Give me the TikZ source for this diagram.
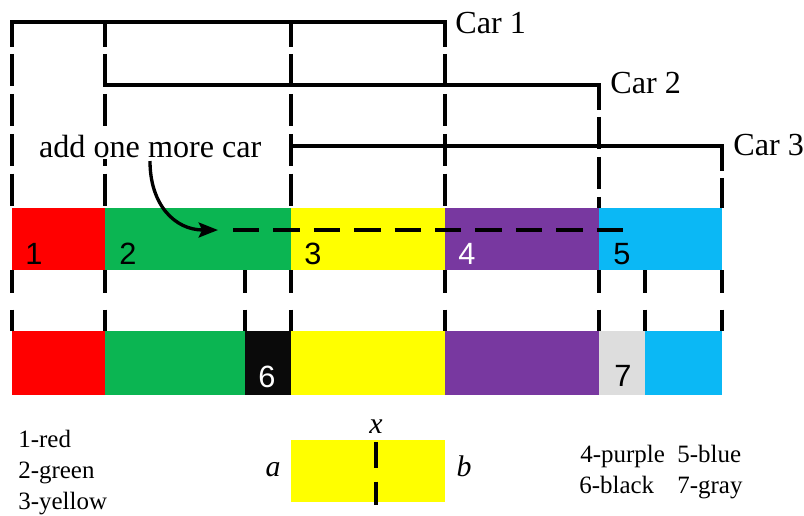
\documentclass[tikz,border=0pt]{standalone}
\usepackage{fontspec}
\setmainfont{Liberation Serif}
\setsansfont{Liberation Sans}
\newfontfamily\serifff{Liberation Serif}
\newfontfamily\sansff{Liberation Sans}
\usetikzlibrary{arrows.meta}
\definecolor{cred}{HTML}{FF0000}
\definecolor{cgreen}{HTML}{0BB552}
\definecolor{cyellow}{HTML}{FFFF00}
\definecolor{cpurple}{HTML}{7838A0}
\definecolor{cblue}{HTML}{0BB8F5}
\definecolor{cblack}{HTML}{0A0A0A}
\definecolor{cgray}{HTML}{DDDDDD}
\begin{document}
\begin{tikzpicture}[x=0.02cm,y=-0.02cm,
  solidline/.style={line width=2.1pt, line cap=rect},
  vdash/.style={line width=2.1pt, dash pattern=on 18.5pt off 4.2pt, dash phase=4.5pt},
  tickline/.style={line width=2pt, dash pattern=on 13pt off 9.6pt},
  hdash/.style={line width=2.2pt, dash pattern=on 15pt off 8pt},
  num/.style={font=\sansff\fontsize{17.5}{20}\selectfont, inner sep=0pt},
  carlabel/.style={font=\serifff\fontsize{18.3}{21}\selectfont, anchor=base west, inner sep=0pt},
  legend/.style={font=\serifff\fontsize{14.2}{16}\selectfont, anchor=base west, inner sep=0pt},
  ital/.style={font=\serifff\itshape\fontsize{17}{19}\selectfont, inner sep=0pt}]
\useasboundingbox (0,0) rectangle (804,515);

% top row blocks
\fill[cred]    (12,208)  rectangle (105,270);
\fill[cgreen]  (105,208) rectangle (291,270);
\fill[cyellow] (291,208) rectangle (445,270);
\fill[cpurple] (445,208) rectangle (599,270);
\fill[cblue]   (599,208) rectangle (722,270);

% bottom row blocks
\fill[cred]    (12,331)  rectangle (105,395);
\fill[cgreen]  (105,331) rectangle (245,395);
\fill[cblack]  (245,331) rectangle (291,395);
\fill[cyellow] (291,331) rectangle (445,395);
\fill[cpurple] (445,331) rectangle (599,395);
\fill[cgray]   (599,331) rectangle (645,395);
\fill[cblue]   (645,331) rectangle (722,395);

% bracket corners
\coordinate (c1a) at (12,22);  \coordinate (c1b) at (445,22);
\coordinate (c2a) at (105,85); \coordinate (c2b) at (599,85);
\coordinate (c3a) at (291,146);\coordinate (c3b) at (722,146);

% car brackets (horizontal)
\draw[solidline] (c1a) -- (c1b);
\draw[solidline] (c2a) -- (c2b);
\draw[solidline] (c3a) -- (c3b);

% vertical dashed lines to top row
\foreach \xx/\yy in {12/22,105/22,291/22,445/22,599/85,722/146}
  \draw[vdash] (\xx,\yy) -- (\xx,208);

% ticks between rows
\foreach \xx in {12,105,245,291,445,599,645,722}
  \draw[tickline] (\xx,270) -- (\xx,331);

% car labels
\node[carlabel] (car1) at (455,33) {Car 1};
\node[carlabel] (car2) at (610,93) {Car 2};
\node[carlabel] (car3) at (733,155) {Car 3};

% add one more car
\node[carlabel, fill=white, inner sep=1pt] (add) at (37,157) {add one more car};
\coordinate (arrS) at (150,161);
\coordinate (arrE) at (218,230);
\coordinate (dS) at (233,230);
\coordinate (dE) at (628,230);
\draw[line width=1.9pt, -{Stealth[length=11pt,width=8.5pt,inset=2pt]}]
  (arrS) .. controls (150,205) and (175,230) .. (arrE);
\draw[hdash] (dS) -- (dE);

% numbers
\node[num] (n1) at (34,254) {1};
\node[num] (n2) at (128,254) {2};
\node[num] (n3) at (313,254) {3};
\node[num, text=white] (n4) at (467,254) {4};
\node[num] (n5) at (622,254) {5};
\node[num, text=white] (n6) at (267,377) {6};
\node[num] (n7) at (623,376) {7};

% legend left
\node[legend] (l1) at (18,447) {1-red};
\node[legend] (l2) at (18,478) {2-green};
\node[legend] (l3) at (18,509) {3-yellow};

% legend right
\node[legend] (l4) at (580,462) {4-purple};
\node[legend] (l5) at (677,462) {5-blue};
\node[legend] (l6) at (579,493) {6-black};
\node[legend] (l7) at (677,493) {7-gray};

% ab box
\fill[cyellow] (291,440) rectangle (445,502);
\coordinate (xt) at (376,442);
\coordinate (xb) at (376,505);
\draw[line width=2.1pt, dash pattern=on 15pt off 7.5pt] (xt) -- (xb);
\node[ital, anchor=base] (xl) at (376,433) {x};
\node[ital, anchor=base] (al) at (273,476) {a};
\node[ital, anchor=base] (bl) at (464,476) {b};
\end{tikzpicture}
\end{document}
